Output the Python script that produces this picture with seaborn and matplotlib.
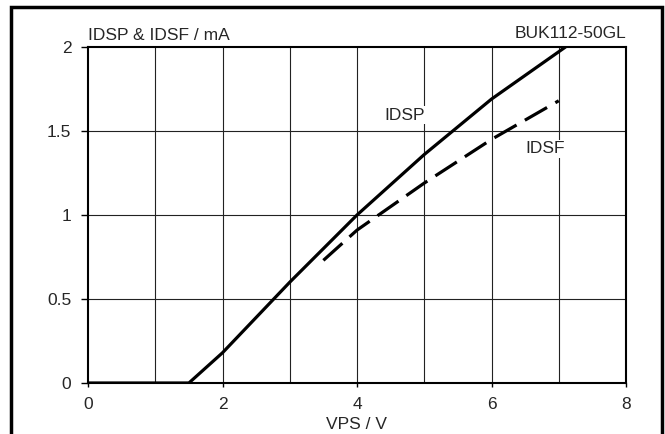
import matplotlib
matplotlib.use("Agg")
import matplotlib.pyplot as plt
import seaborn as sns
import pandas as pd
from matplotlib.patches import Rectangle

# values
vps_p = [0, 1.5, 2, 3, 4, 5, 6, 7.1]
idsp = [0, 0, 0.18, 0.6, 1.0, 1.36, 1.69, 2.0]
vps_f = [3.5, 4, 5, 6, 7]
idsf = [0.73, 0.91, 1.19, 1.45, 1.68]

x_ticks = [0, 2, 4, 6, 8]
y_ticks = [0, 0.5, 1, 1.5, 2]

sns.set_style("white")
plt.rcParams["font.family"] = ["Liberation Sans", "DejaVu Sans"]
plt.rcParams["font.size"] = 12.5

fig = plt.figure(figsize=(6.65, 4.34), dpi=100)
ax = fig.add_axes([88 / 665, 51 / 434, 538 / 665, 336 / 434])

# grid
for gx in range(1, 8):
    ax.axvline(gx, color="#222222", lw=0.8, zorder=1)
for gy in [0.5, 1, 1.5]:
    ax.axhline(gy, color="#222222", lw=0.8, zorder=1)

df_p = pd.DataFrame({"VPS": vps_p, "I": idsp})
df_f = pd.DataFrame({"VPS": vps_f, "I": idsf})
sns.lineplot(data=df_p, x="VPS", y="I", ax=ax, color="black", lw=2.3, zorder=3)
sns.lineplot(data=df_f, x="VPS", y="I", ax=ax, color="black", lw=2.3, zorder=3,
             dashes=False).lines[-1].set_dashes((8, 3))

ax.set_xlim(0, 8)
ax.set_ylim(0, 2)
ax.set_xticks(x_ticks)
ax.set_yticks(y_ticks)
ax.set_yticklabels(["0", "0.5", "1", "1.5", "2"])
ax.set_xlabel("VPS / V", labelpad=4)
ax.set_ylabel("")
ax.tick_params(axis="y", direction="out", length=5, width=1, color="black", pad=7, labelsize=12.5)
ax.tick_params(axis="x", direction="out", length=3, width=1, color="black", pad=7, labelsize=12.5)
ax.xaxis.set_ticks_position("bottom")
ax.yaxis.set_ticks_position("left")
for s in ax.spines.values():
    s.set_linewidth(1.5)
    s.set_color("black")

ax.text(0, 2.025, "IDSP & IDSF / mA", ha="left", va="bottom", fontsize=12.5)
ax.text(8, 2.035, "BUK112-50GL", ha="right", va="bottom", fontsize=12.5)
ax.text(4.71, 1.595, "IDSP", ha="center", va="center", fontsize=12.5,
        bbox=dict(fc="white", ec="none", pad=1), zorder=4)
ax.text(6.80, 1.393, "IDSF", ha="center", va="center", fontsize=12.5,
        bbox=dict(fc="white", ec="none", pad=1), zorder=4)

fig.patches.append(Rectangle((11 / 665, -0.05), 651 / 665, 0.05 + 427 / 434,
                             transform=fig.transFigure, fill=False,
                             ec="black", lw=2.5))

fig.savefig("out.png", dpi=100)
